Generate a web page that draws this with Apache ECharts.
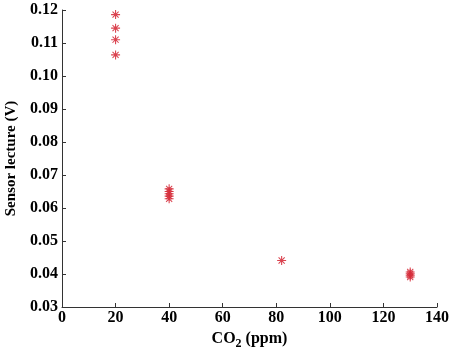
<!DOCTYPE html>
<html>
<head>
<meta charset="utf-8">
<script src="https://cdn.jsdelivr.net/npm/echarts@6/dist/echarts.min.js"></script>
<style>
  html, body { margin: 0; padding: 0; background: #fff; }
  #chart { width: 454px; height: 348px; }
</style>
</head>
<body>
<div id="chart"></div>
<script>
// CO2 concentration (ppm) and sensor reading (V)
const co2 = [20, 20, 20, 20, 40, 40, 40, 40, 40, 82, 130, 130, 130, 130]
const sensorV = [0.1186, 0.1145, 0.1110, 0.1064,
  0.0658, 0.0650, 0.0643, 0.0636, 0.0628,
  0.0441,
  0.0406, 0.0401, 0.0396, 0.0391]
const xTicks = [0, 20, 40, 60, 80, 100, 120, 140]
const yTicks = ['0.03', '0.04', '0.05', '0.06', '0.07', '0.08', '0.09', '0.10', '0.11', '0.12']

const points = co2.map((c, i) => [c, sensorV[i]])

// asterisk marker
const star = 'path://M4.4,0H5.6V10H4.4Z M0,4.4H10V5.6H0Z ' +
  'M1.2,2L2,1.2L8.8,8L8,8.8Z M8,1.2L8.8,2L2,8.8L1.2,8Z'

const font = 'Liberation Serif'
const option = {
  animation: false,
  grid: { left: 62, right: 17, top: 10, bottom: 41, containLabel: false, outerBoundsMode: 'none' },
  xAxis: {
    type: 'value',
    min: xTicks[0],
    max: xTicks[xTicks.length - 1],
    interval: 20,
    name: '{n|CO}{s|2}{n| (ppm)}',
    nameLocation: 'middle',
    nameGap: 18,
    nameTextStyle: {
      verticalAlign: 'top',
      rich: {
        n: { fontFamily: font, fontWeight: 'bold', fontSize: 16, color: '#000', verticalAlign: 'top' },
        s: { fontFamily: font, fontWeight: 'bold', fontSize: 12, color: '#000', verticalAlign: 'top', padding: [7, 0, 0, 0] }
      }
    },
    axisLine: { lineStyle: { color: '#333', width: 1 } },
    axisTick: { inside: true, length: 4, lineStyle: { color: '#333' } },
    axisLabel: { fontFamily: font, fontWeight: 'bold', fontSize: 16, color: '#000', margin: 3 },
    splitLine: { show: false }
  },
  yAxis: {
    type: 'value',
    min: Number(yTicks[0]),
    max: Number(yTicks[yTicks.length - 1]),
    interval: 0.01,
    name: 'Sensor lecture (V)',
    nameLocation: 'middle',
    nameGap: 38,
    nameTextStyle: { fontFamily: font, fontWeight: 'bold', fontSize: 15, color: '#000' },
    axisLine: { show: true, lineStyle: { color: '#333', width: 1 } },
    axisTick: { show: true, inside: true, length: 4, lineStyle: { color: '#333' } },
    axisLabel: {
      fontFamily: font, fontWeight: 'bold', fontSize: 16, color: '#000', margin: 4,
      formatter: v => v.toFixed(2)
    },
    splitLine: { show: false }
  },
  series: [
    {
      type: 'scatter',
      data: points,
      symbol: star,
      symbolSize: 9,
      itemStyle: { color: '#d62f3c', opacity: 0.9 }
    }
  ]
}

const chart = echarts.init(document.getElementById('chart'))
chart.setOption(option)
</script>
</body>
</html>
